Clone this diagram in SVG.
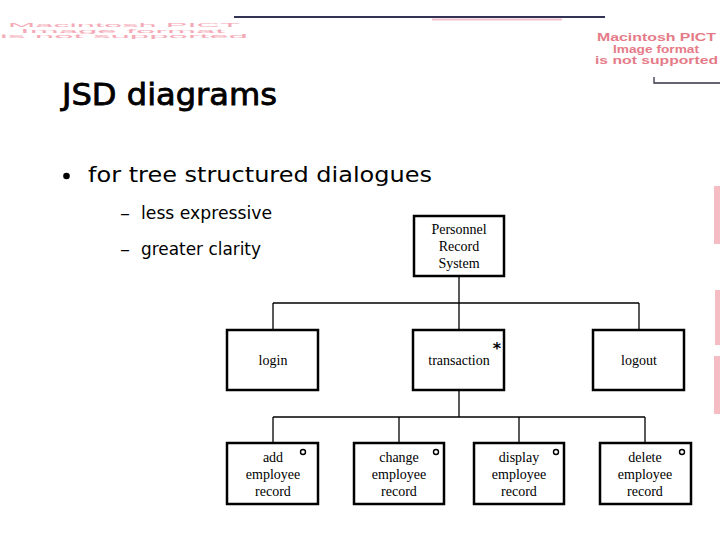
<svg xmlns="http://www.w3.org/2000/svg" width="720" height="540" viewBox="0 0 720 540">
<style>
.box{fill:#fff;stroke:#000;stroke-width:2.5}
.con line{stroke:#000;stroke-width:1.3}
.lbl{font-family:"Liberation Serif","Times New Roman",serif;font-size:14px;fill:#000;text-anchor:middle}
.sel{fill:#fff;stroke:#000;stroke-width:1.4}
.pict{font-family:"Liberation Sans",Arial,sans-serif;font-weight:bold;font-size:11.5px;fill:#e57b88}
.slide{font-family:"DejaVu Sans",Verdana,sans-serif;fill:#000}
</style>
<rect width="720" height="540" fill="#fff"/>
<!-- decorations -->
<line x1="234" y1="17" x2="605" y2="17" stroke="#333355" stroke-width="2"/>
<line x1="432" y1="19.5" x2="562" y2="19.5" stroke="#f0c0cc" stroke-width="2"/>
<g fill="#f4aab6" font-family="'Liberation Sans',Arial,sans-serif">
<text transform="translate(8,27) scale(1,0.45)" font-size="12" textLength="232" lengthAdjust="spacingAndGlyphs">Macintosh PICT</text>
<text transform="translate(20,32.5) scale(1,0.45)" font-size="12" textLength="205" lengthAdjust="spacingAndGlyphs">Image format</text>
<text transform="translate(0,38) scale(1,0.45)" font-size="12" textLength="248" lengthAdjust="spacingAndGlyphs">is not supported</text>
</g>
<text class="pict" x="597" y="41" textLength="119" lengthAdjust="spacingAndGlyphs">Macintosh PICT</text>
<text class="pict" x="613" y="52.5" textLength="86" lengthAdjust="spacingAndGlyphs">Image format</text>
<text class="pict" x="595" y="64" textLength="123" lengthAdjust="spacingAndGlyphs">is not supported</text>
<polyline points="654,77 654,83 720,83" fill="none" stroke="#333344" stroke-width="1.3"/>
<g fill="#f6bcc4">
<rect x="714" y="186" width="6" height="58"/>
<rect x="715" y="290" width="5" height="55"/>
<rect x="714" y="356" width="6" height="58"/>
</g>
<!-- slide text -->
<text class="slide" x="62" y="105" font-size="30" stroke="#000" stroke-width="0.8" textLength="215" lengthAdjust="spacingAndGlyphs">JSD diagrams</text>
<circle cx="66.5" cy="176" r="3.3" fill="#000"/>
<text class="slide" x="88" y="182" font-size="22" textLength="344" lengthAdjust="spacingAndGlyphs">for tree structured dialogues</text>
<text class="slide" x="120" y="219" font-size="18"><tspan textLength="10" lengthAdjust="spacingAndGlyphs">–</tspan> <tspan x="141" textLength="131" lengthAdjust="spacingAndGlyphs">less expressive</tspan></text>
<text class="slide" x="120" y="255" font-size="18"><tspan textLength="10" lengthAdjust="spacingAndGlyphs">–</tspan> <tspan x="141" textLength="120" lengthAdjust="spacingAndGlyphs">greater clarity</tspan></text>
<!-- connectors -->
<g id="connectors" class="con">
<line x1="459" y1="276" x2="459" y2="303"/>
<line x1="273" y1="303" x2="639" y2="303"/>
<line x1="273" y1="303" x2="273" y2="330"/>
<line x1="459" y1="303" x2="459" y2="330"/>
<line x1="639" y1="303" x2="639" y2="330"/>
<line x1="459" y1="390" x2="459" y2="417"/>
<line x1="273" y1="417" x2="645" y2="417"/>
<line x1="273" y1="417" x2="273" y2="443"/>
<line x1="399" y1="417" x2="399" y2="443"/>
<line x1="519" y1="417" x2="519" y2="443"/>
<line x1="645" y1="417" x2="645" y2="443"/>
</g>
<!-- nodes -->
<g id="root">
<rect class="box" x="414" y="216" width="90" height="60"/>
<text class="lbl" x="459" y="234">Personnel</text>
<text class="lbl" x="459" y="251">Record</text>
<text class="lbl" x="459" y="268">System</text>
</g>
<g id="login">
<rect class="box" x="227" y="330" width="91" height="60"/>
<text class="lbl" x="273" y="365">login</text>
</g>
<g id="transaction">
<rect class="box" x="413" y="330" width="91" height="60"/>
<text class="lbl" x="459" y="365">transaction</text>
<text x="497" y="354" font-family="'DejaVu Sans',sans-serif" font-size="16" font-weight="bold" text-anchor="middle">*</text>
</g>
<g id="logout">
<rect class="box" x="593" y="330" width="91" height="60"/>
<text class="lbl" x="639" y="365">logout</text>
</g>
<g id="add">
<rect class="box" x="227" y="443" width="91" height="61"/>
<text class="lbl" x="273" y="462">add</text>
<text class="lbl" x="273" y="479">employee</text>
<text class="lbl" x="273" y="496">record</text>
<circle class="sel" cx="303" cy="452" r="2.5"/>
</g>
<g id="change">
<rect class="box" x="354" y="443" width="90" height="61"/>
<text class="lbl" x="399" y="462">change</text>
<text class="lbl" x="399" y="479">employee</text>
<text class="lbl" x="399" y="496">record</text>
<circle class="sel" cx="436" cy="452" r="2.5"/>
</g>
<g id="display">
<rect class="box" x="474" y="443" width="90" height="61"/>
<text class="lbl" x="519" y="462">display</text>
<text class="lbl" x="519" y="479">employee</text>
<text class="lbl" x="519" y="496">record</text>
<circle class="sel" cx="556" cy="452" r="2.5"/>
</g>
<g id="delete">
<rect class="box" x="600" y="443" width="91" height="61"/>
<text class="lbl" x="645" y="462">delete</text>
<text class="lbl" x="645" y="479">employee</text>
<text class="lbl" x="645" y="496">record</text>
<circle class="sel" cx="682" cy="452" r="2.5"/>
</g>
</svg>
